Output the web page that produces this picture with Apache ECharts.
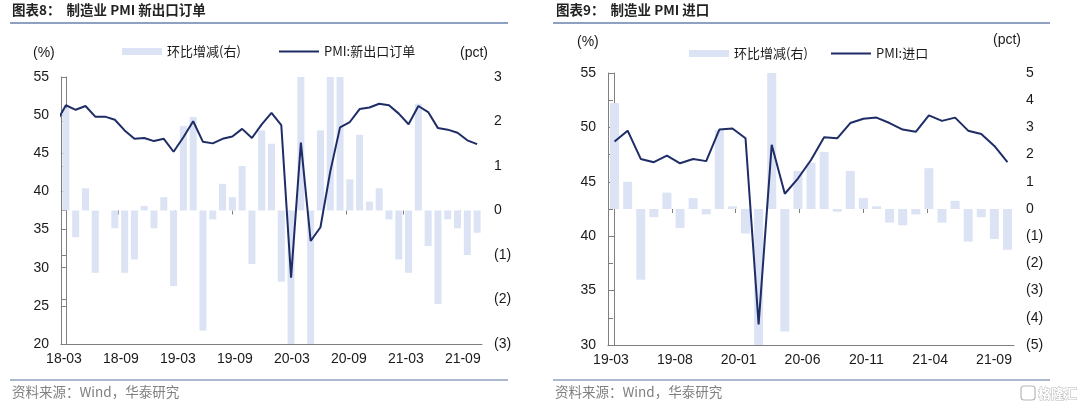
<!DOCTYPE html>
<html>
<head>
<meta charset="utf-8">
<script src="https://cdn.jsdelivr.net/npm/echarts@6/dist/echarts.min.js"></script>
<style>
html,body{margin:0;padding:0;background:#fff;}
#c{width:1080px;height:408px;}
</style>
</head>
<body>
<div id="c"></div>
<script>
// ---------- Chart 8: 新出口订单 ----------
const months8 = ['18-03','18-04','18-05','18-06','18-07','18-08','18-09','18-10','18-11','18-12',
  '19-01','19-02','19-03','19-04','19-05','19-06','19-07','19-08','19-09','19-10','19-11','19-12',
  '20-01','20-02','20-03','20-04','20-05','20-06','20-07','20-08','20-09','20-10','20-11','20-12',
  '21-01','21-02','21-03','21-04','21-05','21-06','21-07','21-08','21-09'];
const exportPrevMonth = 49.0; // 18-02, just left of the plot
const exportPMI = [51.3,50.7,51.2,49.8,49.8,49.4,48.0,46.9,47.0,46.6,
  46.9,45.2,47.1,49.2,46.5,46.3,46.9,47.2,48.2,47.0,48.8,50.3,
  48.7,28.7,46.4,33.5,35.3,42.6,48.4,49.1,50.8,51.0,51.5,51.3,
  50.2,48.8,51.2,50.4,48.3,48.1,47.7,46.7,46.2];
const exportMoM = [2.3,-0.6,0.5,-1.4,0.0,-0.4,-1.4,-1.1,0.1,-0.4,
  0.3,-1.7,1.9,2.1,-2.7,-0.2,0.6,0.3,1.0,-1.2,1.8,1.5,
  -1.6,-20.0,17.7,-12.9,1.8,7.3,5.8,0.7,1.7,0.2,0.5,-0.2,
  -1.1,-1.4,2.4,-0.8,-2.1,-0.2,-0.4,-1.0,-0.5];
const ticks8 = ['18-03','18-09','19-03','19-09','20-03','20-09','21-03','21-09'];

// ---------- Chart 9: 进口 ----------
const months9 = ['19-03','19-04','19-05','19-06','19-07','19-08','19-09','19-10','19-11','19-12',
  '20-01','20-02','20-03','20-04','20-05','20-06','20-07','20-08','20-09','20-10','20-11','20-12',
  '21-01','21-02','21-03','21-04','21-05','21-06','21-07','21-08','21-09'];
const importPMI = [48.7,49.7,47.1,46.8,47.4,46.7,47.1,46.9,49.8,49.9,
  49.0,31.9,48.4,43.9,45.3,47.0,49.1,49.0,50.4,50.8,50.9,50.4,
  49.8,49.6,51.1,50.6,50.9,49.7,49.4,48.3,46.8];
const importMoM = [3.9,1.0,-2.6,-0.3,0.6,-0.7,0.4,-0.2,2.9,0.1,
  -0.9,-17.1,16.5,-4.5,1.4,1.7,2.1,-0.1,1.4,0.4,0.1,-0.5,
  -0.6,-0.2,1.5,-0.5,0.3,-1.2,-0.3,-1.1,-1.5];
const ticks9 = ['19-03','19-08','20-01','20-06','20-11','21-04','21-09'];

// ---------- styles ----------
const NUM = '"Liberation Sans", Arial, sans-serif';
const CJK = '"Noto Sans CJK SC", "Liberation Sans", sans-serif';
const AX = '#7f7f7f';
const LABEL = '#1a1a1a';
const BAR = '#dbe3f4';
const LINE = '#1f2d66';
const RULE = '#8fa1c1';

const pct = v => v < 0 ? '(' + (-v) + ')' : String(v);
const idxPairs = arr => arr.map((v, i) => [i, v]);

function valueX(grid, n) {
  return {type:'value', gridIndex:grid, min:-0.5, max:n-0.5,
    axisLine:{show:true, onZero:false, lineStyle:{color:AX, width:1}},
    axisTick:{show:false}, axisLabel:{show:false}, splitLine:{show:false}};
}
function labelX(grid, labels, maxV) {
  const vals = labels.map((_, i) => i);
  return {type:'value', gridIndex:grid, min:0, max:maxV, position:'bottom',
    axisLine:{show:false},
    axisTick:{show:true, customValues:vals, length:4, lineStyle:{color:AX}},
    axisLabel:{show:true, customValues:vals, margin:8, fontSize:14, fontFamily:NUM, color:LABEL,
      padding:[0,0,0,6], formatter: v => labels[Math.round(v)] || ''},
    splitLine:{show:false}};
}
function yAx(grid, pos, min, max, interval, fmt) {
  return {type:'value', gridIndex:grid, position:pos, min, max, interval,
    axisLine:{show:true, lineStyle:{color:AX, width:1}},
    axisTick:{show:true, inside:false, length:5, lineStyle:{color:AX}},
    axisLabel:{fontSize:14, fontFamily:NUM, color:LABEL, margin:12, formatter:fmt},
    splitLine:{show:false}};
}
function legendOf(left, top, name, h) {
  return {left, top, itemWidth:40, itemHeight:h, icon:'rect',
    textStyle:{fontFamily:CJK, fontSize:13, color:LABEL}, data:[name]};
}

const chart = echarts.init(document.getElementById('c'));
chart.setOption({
  animation:false,
  backgroundColor:'#fff',
  grid:[
    {left:61, top:77, width:421, height:267},
    {left:608, top:73, width:406, height:272}
  ],
  xAxis:[
    valueX(0, months8.length),
    labelX(0, ticks8, 7.39),
    valueX(1, months9.length),
    labelX(1, ticks9, 6.36)
  ],
  yAxis:[
    yAx(0, 'left', 20, 55, 5),
    yAx(0, 'right', -3, 3, 1, pct),
    yAx(1, 'left', 30, 55, 5),
    yAx(1, 'right', -5, 5, 1, pct)
  ],
  legend:[
    legendOf(117, 40, '环比增减(右)', 7),
    legendOf(274, 40, 'PMI:新出口订单', 2),
    legendOf(684, 42, '环比增减(右)', 7),
    legendOf(826, 42, 'PMI:进口', 2)
  ],
  series:[
    {name:'环比增减(右)', type:'bar', xAxisIndex:0, yAxisIndex:1, barWidth:7, clip:true,
      itemStyle:{color:BAR}, data:idxPairs(exportMoM), z:1},
    {name:'PMI:新出口订单', type:'line', xAxisIndex:0, yAxisIndex:0, clip:true,
      symbol:'none', lineStyle:{color:LINE, width:2}, itemStyle:{color:LINE}, z:3,
      data:[[-1, exportPrevMonth]].concat(idxPairs(exportPMI))},
    {name:'环比增减(右)', type:'bar', xAxisIndex:2, yAxisIndex:3, barWidth:9, clip:true,
      itemStyle:{color:BAR}, data:idxPairs(importMoM), z:1},
    {name:'PMI:进口', type:'line', xAxisIndex:2, yAxisIndex:2, clip:true,
      symbol:'none', lineStyle:{color:LINE, width:2}, itemStyle:{color:LINE}, z:3,
      data:idxPairs(importPMI)}
  ],
  graphic:[
    {type:'text', left:12, top:3, style:{text:'图表8：  制造业 PMI 新出口订单', font:'bold 13.5px ' + CJK, fill:'#222'}},
    {type:'line', shape:{x1:10, y1:23, x2:508, y2:23}, style:{stroke:RULE, lineWidth:2}},
    {type:'line', shape:{x1:10, y1:380, x2:508, y2:380}, style:{stroke:RULE, lineWidth:1.5}},
    {type:'text', x:33, y:53, style:{text:'(%)', font:'14px ' + NUM, fill:LABEL, verticalAlign:'middle'}},
    {type:'text', x:460, y:53, style:{text:'(pct)', font:'14px ' + NUM, fill:LABEL, verticalAlign:'middle'}},
    {type:'text', x:12, y:392, style:{text:'资料来源：Wind，华泰研究', font:'13.5px ' + CJK, fill:'#808080', verticalAlign:'middle'}},

    {type:'text', left:556, top:3, style:{text:'图表9：  制造业 PMI 进口', font:'bold 13.5px ' + CJK, fill:'#222'}},
    {type:'line', shape:{x1:553, y1:23, x2:1050, y2:23}, style:{stroke:RULE, lineWidth:2}},
    {type:'line', shape:{x1:553, y1:380, x2:1050, y2:380}, style:{stroke:RULE, lineWidth:1.5}},
    {type:'text', x:577, y:42, style:{text:'(%)', font:'14px ' + NUM, fill:LABEL, verticalAlign:'middle'}},
    {type:'text', x:993, y:40, style:{text:'(pct)', font:'14px ' + NUM, fill:LABEL, verticalAlign:'middle'}},
    {type:'text', x:555, y:392, style:{text:'资料来源：Wind，华泰研究', font:'13.5px ' + CJK, fill:'#808080', verticalAlign:'middle'}},
    {type:'rect', shape:{x:1021, y:386, width:14, height:14, r:3}, style:{fill:'#fff', stroke:'#b8b8b8', lineWidth:1.2}},
    {type:'text', x:1038, y:393, style:{text:'格隆汇', font:'bold 13px ' + CJK, fill:'#fff', stroke:'#b8b8b8', lineWidth:1, verticalAlign:'middle'}}
  ]
});
</script>
</body>
</html>
